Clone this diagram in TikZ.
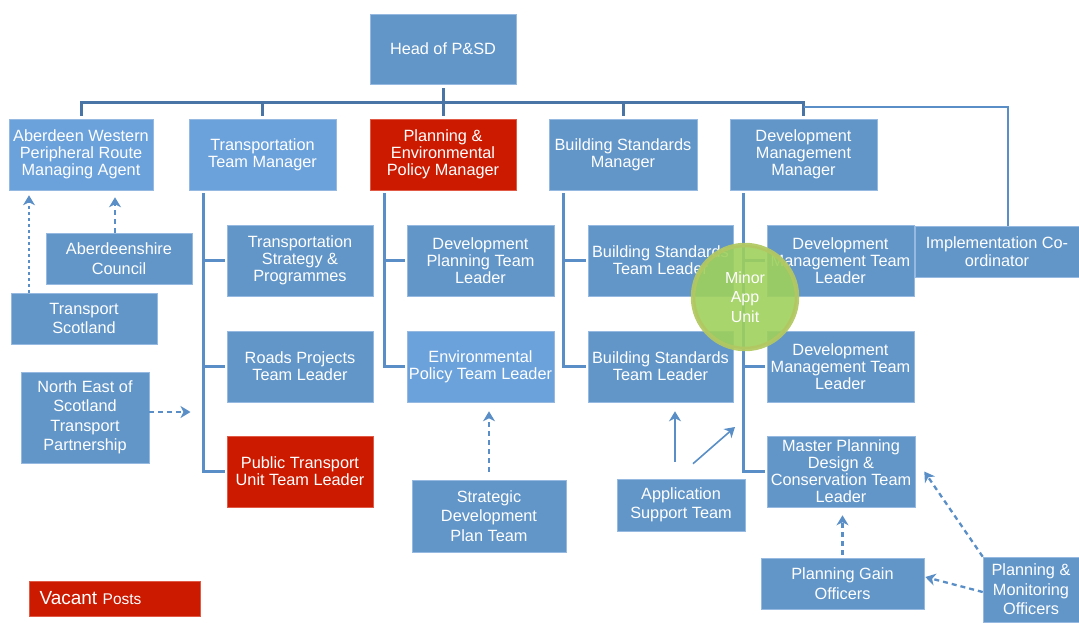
\documentclass[tikz,border=0pt]{standalone}
\usepackage{fontspec}
\setmainfont{Liberation Sans}
\usetikzlibrary{arrows.meta,calc}
\definecolor{boxblue}{RGB}{98,150,201}
\definecolor{lightblue}{RGB}{108,162,220}
\definecolor{boxedge}{RGB}{150,185,225}
\definecolor{vacred}{RGB}{204,26,0}
\definecolor{rededge}{RGB}{225,90,70}
\definecolor{buscol}{RGB}{72,117,166}
\definecolor{trunkcol}{RGB}{90,142,198}
\definecolor{minorfill}{RGB}{158,208,92}
\definecolor{minoredge}{RGB}{178,200,98}
\begin{document}
\begin{tikzpicture}[x=1pt,y=-1pt,
  sz/.style 2 args={minimum width=#1pt, minimum height=#2pt},
  box/.style={rectangle, fill=boxblue, draw=boxedge, line width=0.6pt, text=white,
    align=center, inner sep=0pt, font=\fontsize{16.3}{17}\selectfont},
  loose/.style={font=\fontsize{16.3}{19.5}\selectfont},
  lbox/.style={box, fill=lightblue},
  rbox/.style={box, fill=vacred, draw=rededge},
  bus/.style={draw=buscol, line width=3pt},
  rline/.style={draw=trunkcol, line width=2.5pt},
  trunk/.style={draw=trunkcol, line width=3pt},
  tip/.style={-{Stealth[length=10pt,width=12pt,inset=3pt]}},
  darrow/.style={tip, draw=trunkcol, line width=2.3pt, dash pattern=on 5pt off 4pt},
  sarrow/.style={tip, draw=trunkcol, line width=2.3pt}
]
\useasboundingbox (0,0) rectangle (1079,622);

% top
\node[box, sz={146}{70}] (head) at (443,49) {Head of P\&SD};

% row 1
\node[lbox, sz={144}{71}] (awpr) at (81,154.5) {Aberdeen Western\\Peripheral Route\\Managing Agent};
\node[lbox, sz={147}{71}] (ttm) at (262.5,154.5) {Transportation\\Team Manager};
\node[rbox, sz={146}{71}] (pem) at (443,154.5) {Planning \&\\Environmental\\Policy Manager};
\node[box, sz={148}{71}] (bsm) at (623,154.5) {Building Standards\\Manager};
\node[box, sz={147}{71}] (dmm) at (803.5,154.5) {Development\\Management\\Manager};

% column boxes
\node[box, sz={146}{71}] (tsp) at (300,260.5) {Transportation\\Strategy \&\\Programmes};
\node[box, sz={146}{71}] (rptl) at (300,366.5) {Roads Projects\\Team Leader};
\node[rbox, sz={146}{71}] (ptu) at (300,471.5) {Public Transport\\Unit Team Leader};
\node[box, sz={147}{71}] (dptl) at (480.5,260.5) {Development\\Planning Team\\Leader};
\node[lbox, sz={147}{71}] (eptl) at (480.5,366.5) {Environmental\\Policy Team Leader};
\node[box, sz={145}{71}] (bstl1) at (660.5,260.5) {Building Standards\\Team Leader};
\node[box, sz={145}{71}] (bstl2) at (660.5,366.5) {Building Standards\\Team Leader};
\node[box, sz={147}{71}] (dmtl1) at (840.5,260.5) {Development\\Management Team\\Leader};
\node[box, sz={147}{71}] (dmtl2) at (840.5,366.5) {Development\\Management Team\\Leader};
\node[box, sz={148}{71}] (mp) at (841,471.5) {Master Planning\\Design \&\\Conservation Team\\Leader};
\node[box, sz={164}{51}, font=\fontsize{16.3}{18}\selectfont] (impl) at (997,251.5) {Implementation Co-\\ordinator};

% side boxes
\node[box, loose, sz={146}{51}] (abc) at (119,258.5) {Aberdeenshire\\Council};
\node[box, loose, sz={146}{51}] (tsc) at (84,318.5) {Transport\\Scotland};
\node[box, loose, sz={128}{91}] (nestp) at (85,417.5) {North East of\\Scotland\\Transport\\Partnership};
\node[box, loose, sz={154}{72}] (sdpt) at (489,516) {Strategic\\Development\\Plan Team};
\node[box, loose, sz={128}{52}] (ast) at (681,505) {Application\\Support Team};
\node[box, loose, sz={163}{51}] (pgo) at (842.5,583.5) {Planning Gain\\Officers};
\node[box, loose, sz={96}{65}] (pmo) at (1031,589.5) {Planning \&\\Monitoring\\Officers};

% legend
\node[rbox, sz={171}{35}, align=left, text width=150pt, inner xsep=10.5pt] (vac) at (114.5,598.5)
  {{\fontsize{19}{20}\selectfont Vacant} {\fontsize{15.5}{17}\selectfont Posts}};

% bus
\coordinate (busy) at (0,102.5);
\draw[bus, shorten <=3pt, shorten >=3pt] (awpr.north) |- (dmm.north |- busy) -- (dmm.north);
\foreach \n in {ttm,pem,bsm} \draw[bus, shorten <=3pt] (\n.north) -- (\n.north |- busy);
\draw[bus, shorten <=4pt] (head.south) -- (head.south |- busy);
\coordinate (rl) at (1008,107);
\draw[rline] (dmm.north |- rl) -- (rl) -- (rl |- impl.north);

% trunks
\coordinate (c1) at (203.5,0);
\coordinate (c2) at (384,0);
\coordinate (c3) at (563,0);
\coordinate (c4) at (743,0);
\draw[trunk, shorten <=3pt, shorten >=2pt] (ttm.south -| c1) |- (ptu.west);
\draw[trunk, shorten >=2pt] (tsp.west -| c1) -- (tsp.west);
\draw[trunk, shorten >=2pt] (rptl.west -| c1) -- (rptl.west);
\draw[trunk, shorten <=3pt, shorten >=2pt] (pem.south -| c2) |- (eptl.west);
\draw[trunk, shorten >=2pt] (dptl.west -| c2) -- (dptl.west);
\draw[trunk, shorten <=3pt, shorten >=2pt] (bsm.south -| c3) |- (bstl2.west);
\draw[trunk, shorten >=2pt] (bstl1.west -| c3) -- (bstl1.west);
\draw[trunk, shorten <=3pt, shorten >=2pt] (dmm.south -| c4) |- (mp.west);
\draw[trunk, shorten >=2pt] (dmtl1.west -| c4) -- (dmtl1.west);
\draw[trunk, shorten >=2pt] (dmtl2.west -| c4) -- (dmtl2.west);

% dashed / solid arrows
\coordinate (tx) at (29,0);
\coordinate (ax) at (115,0);
\coordinate (ny) at (0,412);
\coordinate (av) at (675,0);
\coordinate (diagend) at (735,427);
\draw[darrow, line width=1.2pt, dash pattern=on 3pt off 3pt, shorten >=5pt] (tsc.north -| tx) -- (awpr.south -| tx);
\draw[darrow, shorten >=7pt] (abc.north -| ax) -- (awpr.south -| ax);
\draw[darrow, shorten >=13pt] (nestp.east |- ny) -- (c1 |- ny);
\draw[darrow, shorten <=8pt, shorten >=9pt] (sdpt.north) -- (sdpt.north |- eptl.south);
\draw[sarrow, shorten <=17pt, shorten >=9pt] (ast.north -| av) -- (bstl2.south -| av);
\draw[sarrow, line width=1.6pt] ($(ast.north)+(12,-15)$) -- (diagend);
\draw[darrow, shorten <=3pt, shorten >=8pt] (pgo.north) -- (pgo.north |- mp.south);
\draw[darrow] ($(pmo.west)+(0,2.5)$) -- ($(pgo.east)+(1,-6.5)$);
\draw[darrow] (pmo.north west) -- ($(mp.east)+(9,0)$);

% minor app unit
\node[circle, minimum size=104pt, inner sep=0pt, fill=minorfill, fill opacity=0.9, text opacity=1,
  draw=minoredge, draw opacity=0.95, line width=4.5pt, text=white, align=center,
  font=\fontsize{16}{19.5}\selectfont] (minor) at (745,297) {Minor\\App\\Unit};
\end{tikzpicture}
\end{document}
